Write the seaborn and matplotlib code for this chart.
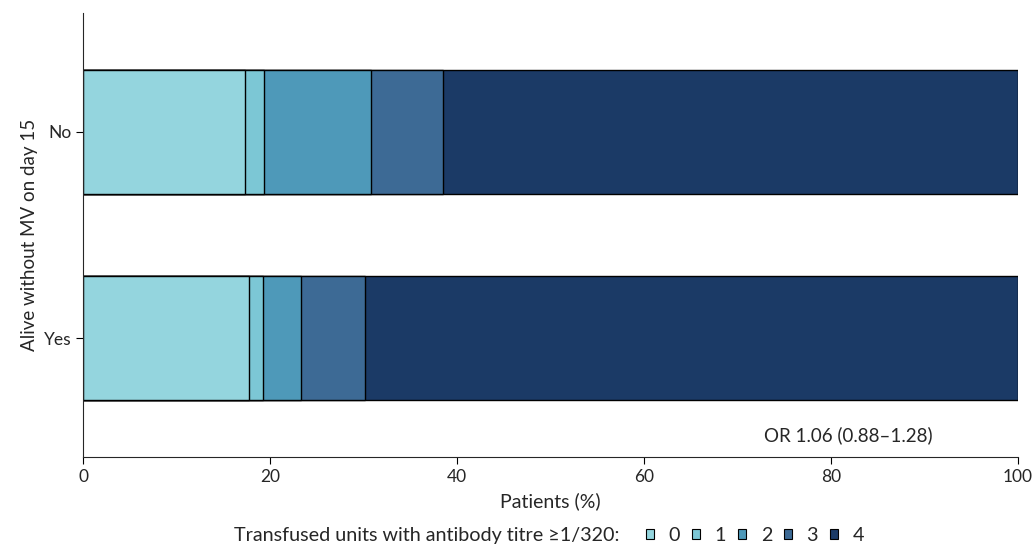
import matplotlib
matplotlib.use("Agg")
import matplotlib.pyplot as plt
import numpy as np
import pandas as pd
import seaborn as sns
from matplotlib.patches import Patch

# Data (percent of patients per category of transfused high-titre units)
groups = ['No', 'Yes']
units = ['0', '1', '2', '3', '4']
pct_no = [17.3, 2.0, 11.5, 7.7, 61.5]
pct_yes = [17.7, 1.5, 4.1, 6.8, 69.9]
colors = ['#94d5de', '#7cc7d5', '#4e99b9', '#3d6a95', '#1b3a66']

sns.set_style('ticks')
plt.rcParams['font.family'] = ['Lato', 'DejaVu Sans']

df = pd.DataFrame({'group': groups})
cum = np.cumsum(np.array([pct_no, pct_yes]), axis=1)

fig = plt.figure(figsize=(10.35, 5.47), dpi=100)
ax = fig.add_axes([0.0805, 0.1645, 0.903, 0.8115])

# stacked bars: draw cumulative totals from widest to narrowest
for i in reversed(range(len(units))):
    df['val'] = cum[:, i]
    sns.barplot(data=df, x='val', y='group', orient='h', color=colors[i],
                width=0.6, edgecolor='black', linewidth=1, saturation=1, ax=ax)

ax.set_xlim(0, 100)
ax.set_ylim(1.575, -0.575)
ax.set_xticks([0, 20, 40, 60, 80, 100])
ax.tick_params(labelsize=12.5, length=5, color='black')
ax.set_xlabel('Patients (%)', fontsize=14, labelpad=5)
ax.set_ylabel('Alive without MV on day 15', fontsize=13.5)
ax.spines['top'].set_visible(False)
ax.spines['right'].set_visible(False)

ax.text(90.9, 0.05, 'OR 1.06 (0.88\u20131.28)', transform=ax.get_xaxis_transform(),
        ha='right', va='center', fontsize=13.5)

handles = [Patch(facecolor=c, edgecolor='black', linewidth=0.8) for c in colors]
ly = 1 - 535.5 / 547
fig.text(620 / 1035, ly, 'Transfused units with antibody titre \u22651/320:',
         ha='right', va='center', fontsize=14.2)
fig.legend(handles, units, loc='center left', bbox_to_anchor=(646 / 1035, ly),
           ncol=5, frameon=False, fontsize=14.2, handlelength=0.4, handleheight=0.4,
           handletextpad=0.75, columnspacing=0.6, borderpad=0, borderaxespad=0)

fig.savefig('out.png', dpi=100)
